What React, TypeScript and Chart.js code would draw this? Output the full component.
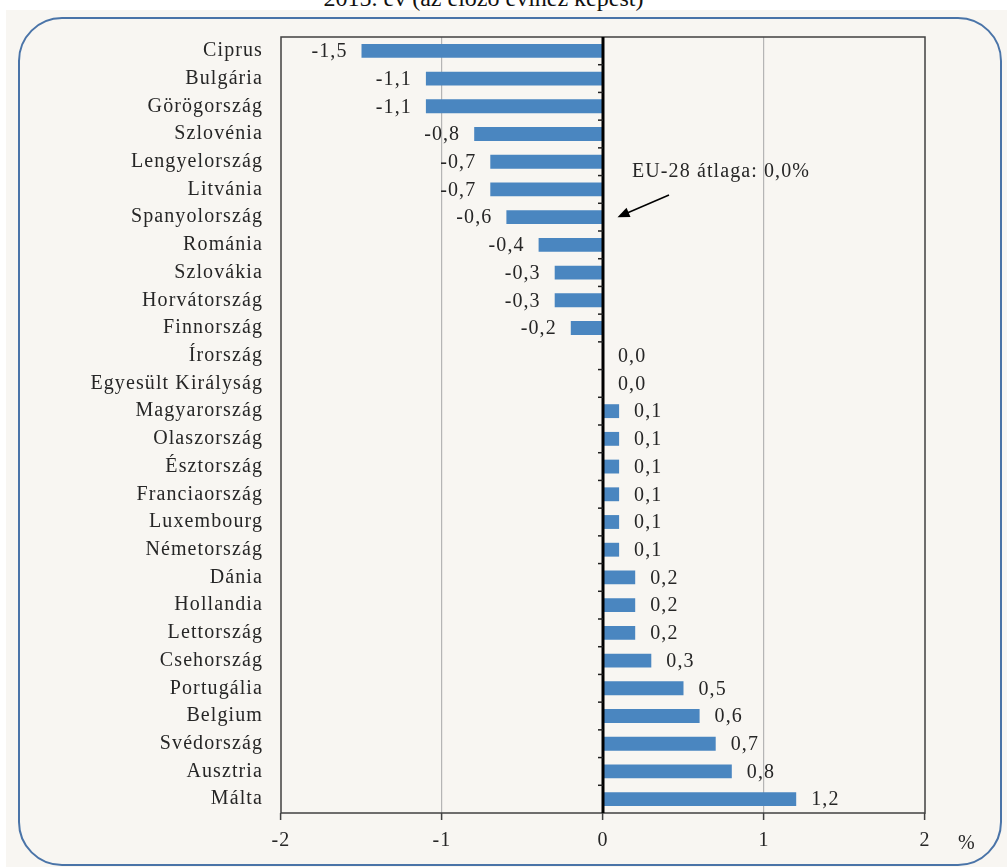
import React, { useEffect, useRef } from "react";
import { Chart, registerables } from "chart.js";

Chart.register(...registerables);

const categories = [
  "Ciprus", "Bulgária", "Görögország", "Szlovénia", "Lengyelország", "Litvánia",
  "Spanyolország", "Románia", "Szlovákia", "Horvátország", "Finnország", "Írország",
  "Egyesült Királyság", "Magyarország", "Olaszország", "Észtország", "Franciaország",
  "Luxembourg", "Németország", "Dánia", "Hollandia", "Lettország", "Csehország",
  "Portugália", "Belgium", "Svédország", "Ausztria", "Málta",
];
const values = [
  -1.5, -1.1, -1.1, -0.8, -0.7, -0.7, -0.6, -0.4, -0.3, -0.3, -0.2, 0.0, 0.0,
  0.1, 0.1, 0.1, 0.1, 0.1, 0.1, 0.2, 0.2, 0.2, 0.3, 0.5, 0.6, 0.7, 0.8, 1.2,
];
const xTicks = [-2, -1, 0, 1, 2];
const titleText = "2015. év (az előző évihez képest)";
const annotationText = "EU-28 átlaga: 0,0%";
const unitText = "%";

const FONT = "'Liberation Serif', 'Times New Roman', serif";
const FONT_SIZE = 20;
const LETTER_SPACING = "1.1px";
const BAR_COLOR = "#4a86c0";
const TEXT_COLOR = "#262626";

const fmt = (v: number) => v.toFixed(1).replace(".", ",");

const spacingPlugin = {
  id: "spacing",
  beforeDraw(chart: any) {
    (chart.ctx as any).letterSpacing = LETTER_SPACING;
  },
};

const overlayPlugin = {
  id: "overlay",
  afterDatasetsDraw(chart: any) {
    const { ctx, chartArea } = chart;
    const xs = chart.scales.x;
    const ys = chart.scales.y;
    ctx.save();
    ctx.letterSpacing = LETTER_SPACING;
    // data labels
    ctx.font = `${FONT_SIZE}px ${FONT}`;
    ctx.fillStyle = TEXT_COLOR;
    ctx.textBaseline = "middle";
    const meta = chart.getDatasetMeta(0);
    meta.data.forEach((bar: any, i: number) => {
      const v = values[i];
      const y = bar.y + 1;
      if (v < 0) {
        ctx.textAlign = "right";
        ctx.fillText(fmt(v), bar.x - 14, y);
      } else {
        ctx.textAlign = "left";
        ctx.fillText(fmt(v), Math.max(bar.x, xs.getPixelForValue(0)) + 15, y);
      }
    });
    // frame
    ctx.strokeStyle = "#404040";
    ctx.lineWidth = 1.5;
    ctx.strokeRect(chartArea.left, chartArea.top, chartArea.right - chartArea.left, chartArea.bottom - chartArea.top);
    // zero line
    const x0 = xs.getPixelForValue(0);
    ctx.strokeStyle = "#000";
    ctx.lineWidth = 3;
    ctx.beginPath();
    ctx.moveTo(x0, chartArea.top);
    ctx.lineTo(x0, chartArea.bottom);
    ctx.stroke();
    // small ticks at category boundaries
    ctx.lineWidth = 1.5;
    ctx.strokeStyle = "#202020";
    for (let i = 0; i < categories.length - 1; i++) {
      const yb = (ys.getPixelForValue(i) + ys.getPixelForValue(i + 1)) / 2;
      ctx.beginPath();
      ctx.moveTo(x0 - 5, yb);
      ctx.lineTo(x0, yb);
      ctx.stroke();
    }
    // annotation
    ctx.font = `${FONT_SIZE}px ${FONT}`;
    ctx.fillStyle = TEXT_COLOR;
    ctx.textAlign = "left";
    ctx.textBaseline = "middle";
    ctx.fillText(annotationText, xs.getPixelForValue(0.18), ys.getPixelForValue(4.35));
    const tx = xs.getPixelForValue(0.41), ty = ys.getPixelForValue(5.2);
    const hx = xs.getPixelForValue(0.09), hy = ys.getPixelForValue(6.0);
    const ang = Math.atan2(hy - ty, hx - tx);
    ctx.strokeStyle = "#000";
    ctx.lineWidth = 1.5;
    ctx.beginPath();
    ctx.moveTo(tx, ty);
    ctx.lineTo(hx - 8 * Math.cos(ang), hy - 8 * Math.sin(ang));
    ctx.stroke();
    ctx.fillStyle = "#000";
    ctx.beginPath();
    ctx.moveTo(hx, hy);
    ctx.lineTo(hx - 12 * Math.cos(ang) + 5 * Math.sin(ang), hy - 12 * Math.sin(ang) - 5 * Math.cos(ang));
    ctx.lineTo(hx - 12 * Math.cos(ang) - 5 * Math.sin(ang), hy - 12 * Math.sin(ang) + 5 * Math.cos(ang));
    ctx.closePath();
    ctx.fill();
    // unit
    ctx.fillStyle = TEXT_COLOR;
    ctx.textAlign = "left";
    ctx.fillText(unitText, chartArea.right + 33, chartArea.bottom + 31);
    ctx.restore();
  },
};

export default function App() {
  const ref = useRef<HTMLCanvasElement>(null);
  useEffect(() => {
    document.body.style.margin = "0";
    const chart = new Chart(ref.current!, {
      type: "bar",
      data: {
        labels: categories,
        datasets: [
          {
            data: values,
            backgroundColor: BAR_COLOR,
            borderWidth: 0,
            barPercentage: 0.5,
            categoryPercentage: 1,
          },
        ],
      },
      options: {
        indexAxis: "y",
        animation: false,
        responsive: false,
        maintainAspectRatio: false,
        layout: { padding: { top: 37, right: 82, bottom: 0, left: 0 } },
        plugins: { legend: { display: false }, tooltip: { enabled: false } },
        scales: {
          x: {
            min: -2,
            max: 2,
            afterBuildTicks: (s: any) => {
              s.ticks = xTicks.map((v) => ({ value: v }));
            },
            afterFit: (s: any) => {
              s.height = 54;
            },
            border: { display: false },
            grid: {
              drawTicks: true,
              tickLength: 7,
              tickColor: "#404040",
              tickWidth: 1.5,
              lineWidth: 1.2,
              color: (c: any) => (c.tick && Math.abs(c.tick.value) === 1 ? "#b5b5b5" : "rgba(0,0,0,0)"),
            },
            ticks: {
              color: TEXT_COLOR,
              font: { family: FONT, size: FONT_SIZE },
              padding: 9,
              callback: (v: any) => String(v),
            },
          },
          y: {
            afterFit: (s: any) => {
              s.width = 281;
            },
            border: { display: false },
            grid: { display: false, drawTicks: false },
            ticks: {
              color: TEXT_COLOR,
              font: { family: FONT, size: FONT_SIZE },
              padding: 18,
              autoSkip: false,
            },
          },
        },
      },
      plugins: [spacingPlugin, overlayPlugin],
    });
    return () => chart.destroy();
  }, []);

  return (
    <div style={{ position: "relative", width: 1007, height: 867, background: "#fff", overflow: "hidden" }}>
      <div
        style={{
          position: "absolute",
          left: 6,
          top: 10,
          right: 0,
          bottom: 0,
          background: "#f8f6f2",
        }}
      />
      <div
        style={{
          position: "absolute",
          left: 0,
          right: 40,
          top: -15,
          textAlign: "center",
          fontFamily: FONT,
          fontSize: 24,
          color: "#111",
        }}
      >
        {titleText}
      </div>
      <div
        style={{
          position: "absolute",
          left: 18,
          top: 17,
          width: 1002 - 18,
          height: 866 - 17,
          border: "2px solid #4a74a8",
          borderRadius: 44,
          boxSizing: "border-box",
        }}
      />
      <canvas ref={ref} width={1007} height={867} style={{ position: "absolute", left: 0, top: 0 }} />
    </div>
  );
}
